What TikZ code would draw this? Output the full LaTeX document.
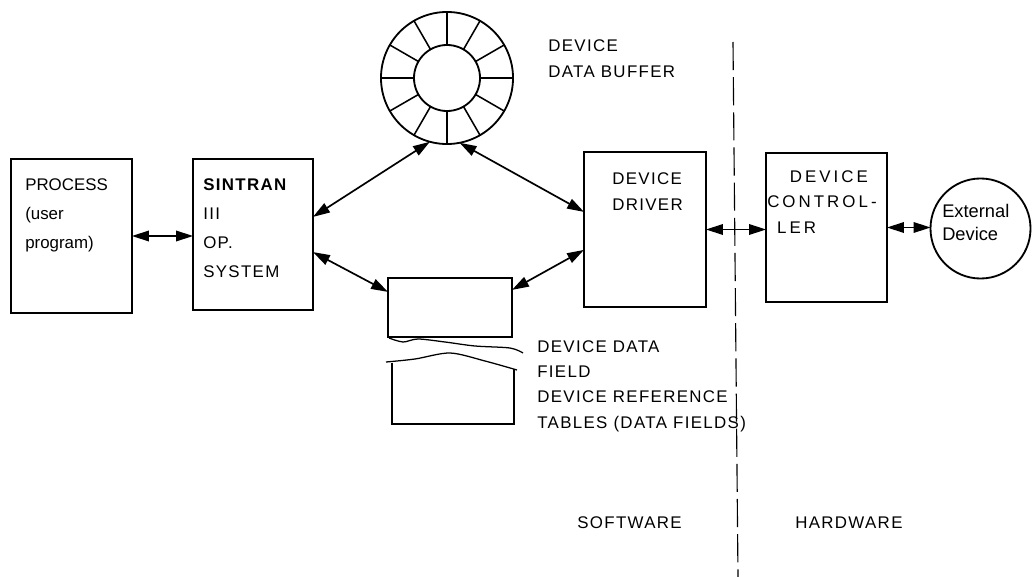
\documentclass[tikz,border=0pt]{standalone}
\usepackage{fontspec}
\setmainfont{Liberation Sans}
\newfontfamily\capsfont[LetterSpace=8]{Liberation Sans}
\newfontfamily\widefont[LetterSpace=18]{Liberation Sans}
\usetikzlibrary{arrows.meta}

\begin{document}
\begin{tikzpicture}[x=0.025cm,y=-0.025cm,
  box/.style = {draw, line width=1.3pt, inner sep=0pt, outer sep=0pt},
  ring/.style = {draw, circle, line width=1.3pt, inner sep=0pt, outer sep=0pt},
  link/.style = {line width=1.2pt, {Triangle[length=12pt,width=7.5pt]}-{Triangle[length=12pt,width=7.5pt]}},
  txt/.style = {anchor=base west, inner sep=0pt, align=left, font=\capsfont\fontsize{12}{17.8}\selectfont},
  tear/.style = {line width=0.9pt}]
\useasboundingbox (0,0) rectangle (1032,577);
% boxes
\node[box, minimum width=3.025cm, minimum height=3.85cm] (process) at (71.5,236) {};
\node[box, minimum width=3cm, minimum height=3.775cm] (sintran) at (253,234.5) {};
\node[box, minimum width=3.05cm, minimum height=3.875cm] (driver) at (645,229.5) {};
\node[box, minimum width=3.025cm, minimum height=3.725cm] (controller) at (826.5,227.5) {};
\node[box, minimum width=3.1cm, minimum height=1.475cm] (field) at (450,307.5) {};
\node[ring, minimum size=2.5cm] (external) at (980.5,228.5) {};
% ring buffer
\node[ring, minimum size=3.3cm] (buffer) at (447,78) {};
\node[ring, minimum size=1.65cm] (hub) at (447,78) {};
\foreach \a in {0,30,...,330}
    \draw[line width=1.1pt] (hub.\a) -- (buffer.\a);
% torn data field
\draw[tear] plot[smooth] coordinates {(389,338) (403,342) (418,339) (445,342) (475,346) (510,348) (523,353)};
\draw[tear] plot[smooth] coordinates {(386,362) (415,359) (450,353) (485,361) (517,370)};
\draw[box] (392,363) -- (392,424) -- (514,424) -- (514,369);
% software / hardware border
\draw[line width=0.8pt, dash pattern=on 20pt off 5pt] (733,42) -- (738,577);
% texts (base = last line)
\node[txt, font=\fontsize{12}{20.6}\selectfont] (processtxt) at (25,248) {PROCESS\\(user\\program)};
\node[txt, font=\capsfont\fontsize{12}{20.6}\selectfont] (sintrantxt) at (203,277) {\textbf{SINTRAN}\\III\\OP.\\SYSTEM};
\node[txt] (drivertxt) at (612,210) {DEVICE\\DRIVER};
\node[txt, font=\widefont\fontsize{12}{17.8}\selectfont] (controllertxt) at (767,233) {\hspace*{16pt}DEVICE\\CONTROL-\\\hspace*{7pt}LER};
\node[txt, font=\fontsize{13}{16}\selectfont] (externaltxt) at (942,240) {External\\Device};
\node[txt, font=\capsfont\fontsize{12}{18.5}\selectfont] (buffertxt) at (548,78) {DEVICE\\DATA BUFFER};
\node[txt] (fieldtxt) at (537,428) {DEVICE DATA\\FIELD\\DEVICE REFERENCE\\TABLES (DATA FIELDS)};
\node[txt] (softtxt) at (577,528) {SOFTWARE};
\node[txt] (hardtxt) at (795,528) {HARDWARE};
% connectors
\draw[link] (process.east) -- (process.east -| sintran.west);
\draw[link] ([yshift=0.44cm]sintran.east) -- (buffer.255);
\draw[link] ([yshift=-0.44cm]sintran.east) -- ([yshift=0.39cm]field.west);
\draw[link] (buffer.281) -- ([yshift=0.44cm]driver.west);
\draw[link] ([yshift=0.44cm]field.east) -- ([yshift=-0.51cm]driver.west);
\draw[link] (driver.east) -- (driver.east -| controller.west);
\draw[link] (controller.east) -- (controller.east -| external.west);
\end{tikzpicture}
\end{document}
